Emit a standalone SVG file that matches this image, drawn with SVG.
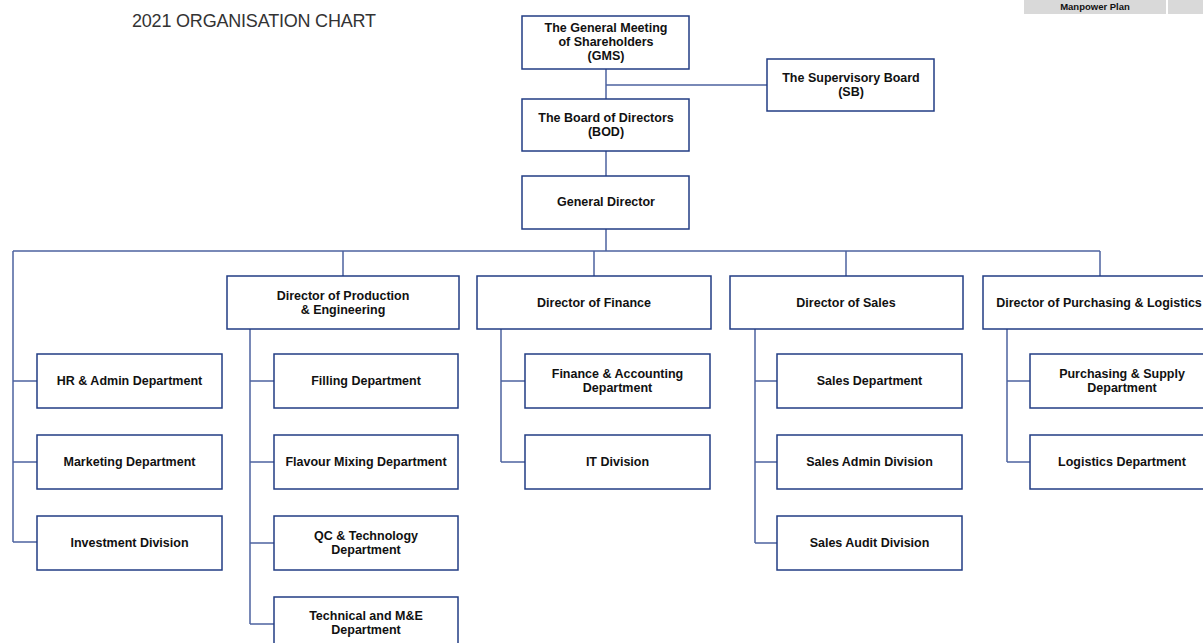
<svg xmlns="http://www.w3.org/2000/svg" width="1203" height="643" viewBox="0 0 1203 643">
<style>
.box{fill:#fff;stroke:#223d84;stroke-width:1.5}
.ln{fill:none;stroke:#4d63a0;stroke-width:1.5}
.t{font-family:"Liberation Sans",Arial,sans-serif;font-weight:bold;font-size:12.5px;fill:#111;text-anchor:middle}
.title{font-family:"Liberation Sans",Arial,sans-serif;font-size:18px;fill:#333;letter-spacing:-0.2px}
.btn{fill:#d9d9d9}
</style>
<rect width="1203" height="643" fill="#fff"/>
<g id="header">
<text class="title" x="132" y="27">2021 ORGANISATION CHART</text>
<rect class="btn" x="1024" y="0" width="142" height="14"/>
<rect class="btn" x="1168" y="0" width="35" height="14"/>
<text class="t" x="1095" y="10" style="font-size:9.5px">Manpower Plan</text>
</g>
<g id="connectors">
<path class="ln" d="M606 69V99M606 85H767M606 151V176M606 229V251M13 251H1100M343 251V276M594 251V276M846 251V276M1100 251V276"/>
<path class="ln" d="M13 251V542M13 381H37M13 462H37M13 542H37"/>
<path class="ln" d="M250 329V624M250 381H274M250 462H274M250 543H274M250 624H274"/>
<path class="ln" d="M501 329V462M501 381H525M501 462H525"/>
<path class="ln" d="M755 329V543M755 381H777M755 462H777M755 543H777"/>
<path class="ln" d="M1007 329V462M1007 381H1030M1007 462H1030"/>
</g>
<g id="gms"><rect class="box" x="522" y="16" width="167" height="53"/><text class="t" x="606" y="32">The General Meeting</text><text class="t" x="606" y="46">of Shareholders</text><text class="t" x="606" y="60">(GMS)</text></g>
<g id="sb"><rect class="box" x="767" y="59" width="167" height="52"/><text class="t" x="851" y="82">The Supervisory Board</text><text class="t" x="851" y="96">(SB)</text></g>
<g id="bod"><rect class="box" x="522" y="99" width="167" height="52"/><text class="t" x="606" y="122">The Board of Directors</text><text class="t" x="606" y="136">(BOD)</text></g>
<g id="gd"><rect class="box" x="522" y="176" width="167" height="53"/><text class="t" x="606" y="206">General Director</text></g>
<g id="dir-prod"><rect class="box" x="227" y="276" width="232" height="53"/><text class="t" x="343" y="300">Director of Production</text><text class="t" x="343" y="314">&amp; Engineering</text></g>
<g id="dir-fin"><rect class="box" x="477" y="276" width="234" height="53"/><text class="t" x="594" y="307">Director of Finance</text></g>
<g id="dir-sales"><rect class="box" x="730" y="276" width="233" height="53"/><text class="t" x="846" y="307">Director of Sales</text></g>
<g id="dir-pur"><rect class="box" x="983" y="276" width="234" height="53"/><text class="t" x="1099" y="307">Director of Purchasing &amp; Logistics</text></g>
<g id="hr"><rect class="box" x="37" y="354" width="185" height="54"/><text class="t" x="129.5" y="385">HR &amp; Admin Department</text></g>
<g id="mkt"><rect class="box" x="37" y="435" width="185" height="54"/><text class="t" x="129.5" y="466">Marketing Department</text></g>
<g id="inv"><rect class="box" x="37" y="516" width="185" height="54"/><text class="t" x="129.5" y="547">Investment Division</text></g>
<g id="fill"><rect class="box" x="274" y="354" width="184" height="54"/><text class="t" x="366" y="385">Filling Department</text></g>
<g id="flav"><rect class="box" x="274" y="435" width="184" height="54"/><text class="t" x="366" y="466">Flavour Mixing Department</text></g>
<g id="qc"><rect class="box" x="274" y="516" width="184" height="54"/><text class="t" x="366" y="540">QC &amp; Technology</text><text class="t" x="366" y="554">Department</text></g>
<g id="tech"><rect class="box" x="274" y="597" width="184" height="54"/><text class="t" x="366" y="620">Technical and M&amp;E</text><text class="t" x="366" y="634">Department</text></g>
<g id="fa"><rect class="box" x="525" y="354" width="185" height="54"/><text class="t" x="617.5" y="378">Finance &amp; Accounting</text><text class="t" x="617.5" y="392">Department</text></g>
<g id="it"><rect class="box" x="525" y="435" width="185" height="54"/><text class="t" x="617.5" y="466">IT Division</text></g>
<g id="sd"><rect class="box" x="777" y="354" width="185" height="54"/><text class="t" x="869.5" y="385">Sales Department</text></g>
<g id="sad"><rect class="box" x="777" y="435" width="185" height="54"/><text class="t" x="869.5" y="466">Sales Admin Division</text></g>
<g id="sau"><rect class="box" x="777" y="516" width="185" height="54"/><text class="t" x="869.5" y="547">Sales Audit Division</text></g>
<g id="ps"><rect class="box" x="1030" y="354" width="185" height="54"/><text class="t" x="1122" y="378">Purchasing &amp; Supply</text><text class="t" x="1122" y="392">Department</text></g>
<g id="log"><rect class="box" x="1030" y="435" width="185" height="54"/><text class="t" x="1122" y="466">Logistics Department</text></g>
</svg>
